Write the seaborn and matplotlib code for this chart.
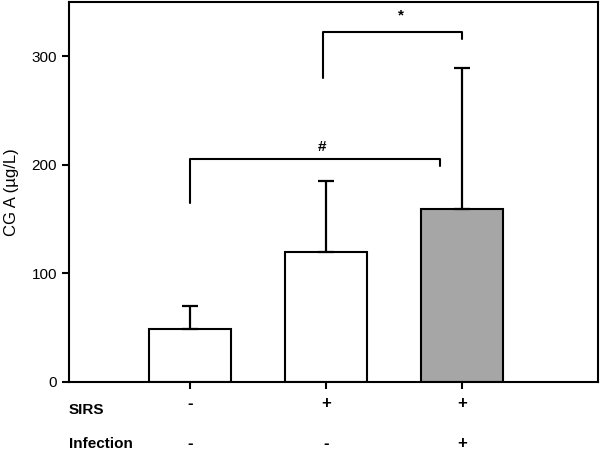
import numpy as np
import pandas as pd
import matplotlib
matplotlib.use("Agg")
import matplotlib.pyplot as plt
import matplotlib.transforms as mtransforms
import seaborn as sns

# ─── Data ─────────────────────────────────────────────────────────────────────
groups     = ["g1", "g2", "g3"]
cga_mean   = [49, 120, 159]
cga_sd     = [21, 65, 130]
sirs_row   = ["-", "+", "+"]
infect_row = ["-", "-", "+"]
bar_colors = ["white", "white", "#a6a6a6"]

df = pd.DataFrame({"group": groups, "cga": cga_mean})

# ─── Style ────────────────────────────────────────────────────────────────────
sns.set_style("ticks", {"axes.edgecolor": "black", "text.color": "black",
                        "axes.labelcolor": "black", "xtick.color": "black",
                        "ytick.color": "black"})
plt.rcParams["font.family"] = ["Liberation Sans", "DejaVu Sans"]

fig = plt.figure(figsize=(6.0, 4.51), dpi=100)
ax = fig.add_axes([0.115, 0.153, 0.882, 0.843])

sns.barplot(data=df, x="group", y="cga", hue="group", palette=bar_colors,
            width=0.6, errorbar=None, edgecolor="black", linewidth=1.5,
            legend=False, ax=ax)

# upper-only error bars
ax.errorbar(range(len(groups)), cga_mean, yerr=[np.zeros(3), cga_sd],
            fmt="none", ecolor="black", elinewidth=1.6, capsize=6, capthick=1.6)

ax.set_xlim(-0.89, 3.0)
ax.set_ylim(0, 350)
ax.set_yticks([0, 100, 200, 300])
ax.set_xticks(range(len(groups)))
ax.set_xticklabels(sirs_row, fontsize=12, fontweight="bold")
ax.set_xlabel("")
ax.set_ylabel("CG A (µg/L)", fontsize=12, labelpad=9)
ax.tick_params(axis="y", labelsize=11, length=5, width=1.5, direction="out")
ax.tick_params(axis="x", length=5, width=1.5, direction="out", pad=5)
for s in ax.spines.values():
    s.set_linewidth(1.5)
    s.set_visible(True)

# row labels below the axis
trans = mtransforms.blended_transform_factory(ax.transData, ax.transAxes)
ax.text(-0.89, -0.074, "SIRS", transform=trans, fontsize=11,
        fontweight="bold", ha="left", va="center")
ax.text(-0.89, -0.163, "Infection", transform=trans, fontsize=11,
        fontweight="bold", ha="left", va="center")
for i, s in enumerate(infect_row):
    ax.text(i, -0.163, s, transform=trans, fontsize=12, fontweight="bold",
            ha="center", va="center")

# significance brackets
def bracket(x1, x2, y, y1, y2, label, lx, ly):
    ax.plot([x1, x1, x2, x2], [y1, y, y, y2], color="black", lw=1.5)
    ax.text(lx, ly, label, ha="center", va="center", fontsize=11,
            fontweight="bold")

bracket(0.0, 1.84, 205.5, 165, 199, "#", 0.97, 216)
bracket(0.98, 2.0, 322, 280, 316, "*", 1.55, 337)

fig.savefig("out.png", dpi=100)
